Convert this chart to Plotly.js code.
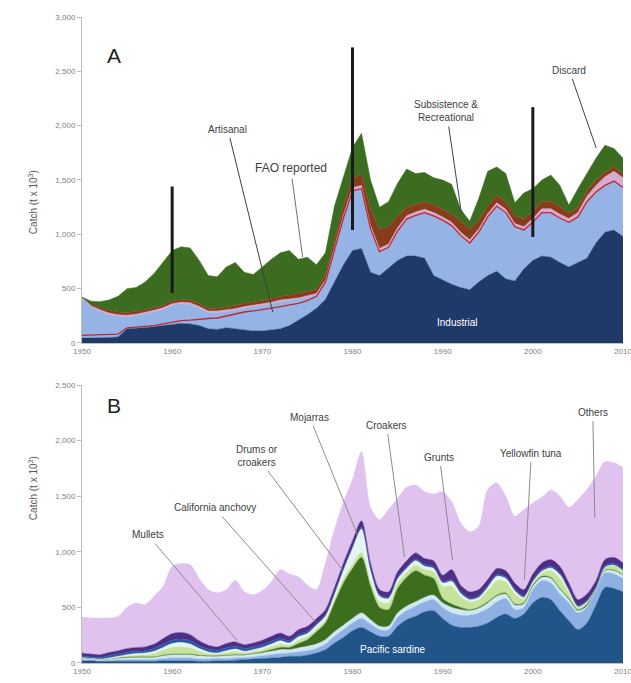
<!DOCTYPE html>
<html>
<head>
<meta charset="utf-8">
<script src="https://cdn.plot.ly/plotly-3.0.1.min.js"></script>
<style>html,body{margin:0;padding:0;background:#fff;}#chart{width:631px;height:683px;}</style>
</head>
<body>
<div id="chart"></div>
<script>
// ---------- shared x categories ----------
const years = [1950,1951,1952,1953,1954,1955,1956,1957,1958,1959,
  1960,1961,1962,1963,1964,1965,1966,1967,1968,1969,
  1970,1971,1972,1973,1974,1975,1976,1977,1978,1979,
  1980,1981,1982,1983,1984,1985,1986,1987,1988,1989,
  1990,1991,1992,1993,1994,1995,1996,1997,1998,1999,
  2000,2001,2002,2003,2004,2005,2006,2007,2008,2009,2010];
const xTicks = [1950,1960,1970,1980,1990,2000,2010];

// ---------- Panel A: catch by sector (t x 10^3) ----------
const industrial = [45,45,50,50,55,130,135,140,150,160,
  170,180,175,160,130,125,140,130,120,110,
  110,120,130,160,210,260,320,400,560,720,
  850,870,650,620,690,760,800,800,780,620,
  580,540,510,490,560,620,660,590,570,680,
  760,800,790,740,700,740,780,920,1020,1040,980];
const artisanal = [375,285,240,210,190,110,115,125,135,150,
  175,180,180,160,150,155,150,170,200,220,
  235,240,250,230,190,160,120,160,290,430,
  550,550,400,220,190,270,340,375,420,550,
  550,540,480,430,460,540,600,610,500,360,
  350,400,410,410,410,420,520,470,430,450,450];
const unreportedArtisanal = [0,10,15,15,15,15,15,15,15,15,
  15,15,15,15,15,15,15,15,15,15,
  15,15,15,15,15,15,15,20,25,30,
  30,30,30,30,30,30,30,30,30,30,
  30,30,30,30,30,30,30,30,30,30,
  35,35,35,35,35,40,50,60,80,90,90];
const subsistenceRecreational = [0,15,20,25,25,25,25,25,25,25,
  25,25,25,25,25,25,25,30,30,30,
  30,35,35,35,40,40,40,50,70,80,
  90,100,150,180,160,110,80,70,70,70,
  70,80,100,100,80,70,70,70,70,70,
  70,70,70,70,50,50,50,50,40,40,40];
const discard = [3,30,55,96,145,220,220,255,315,390,
  465,485,480,400,300,290,370,395,285,255,
  310,360,400,410,315,315,225,200,315,280,
  280,380,270,200,230,300,350,285,270,250,
  270,270,110,70,200,320,260,260,120,240,
  205,195,240,195,75,170,160,200,250,170,140];
const faoReported = [70,72,75,78,82,140,145,150,160,175,
  190,205,210,220,225,230,250,265,285,295,
  305,320,335,350,365,390,430,560,850,1150,
  1400,1420,1050,840,880,1030,1140,1175,1200,1170,
  1130,1080,990,920,1020,1160,1260,1200,1070,1040,
  1110,1200,1200,1150,1110,1160,1300,1390,1450,1490,1430];
const rangeYears = [1960,1980,2000];
const rangeLow = [460,1040,975];
const rangeHigh = [1440,2720,2170];
const yTicksA = [0,500,1000,1500,2000,2500,3000];

// ---------- Panel B: catch by taxa (t x 10^3) ----------
const pacificSardine = [20,20,15,15,15,15,15,15,15,20,
  20,20,20,15,15,20,20,25,30,35,
  40,45,50,60,60,70,90,120,180,230,
  290,320,280,240,240,330,390,420,460,470,
  400,340,320,320,330,360,410,440,400,440,
  540,590,570,470,380,300,360,520,680,670,640];
const taxonLightBlue = [10,8,8,10,12,15,15,15,15,20,
  25,25,25,20,20,20,20,20,20,20,
  25,30,35,30,40,40,40,50,60,70,
  70,80,70,60,60,80,80,90,90,100,
  100,110,110,110,120,130,140,140,80,60,
  120,150,150,150,160,150,140,130,130,130,120];
const taxonPaleCyan = [10,7,7,10,15,18,20,20,20,25,
  30,30,30,30,25,20,25,25,20,25,
  25,30,35,30,35,40,40,40,40,40,
  40,50,40,30,30,40,40,40,40,40,
  40,50,50,40,40,50,50,40,40,30,
  30,30,40,40,30,20,10,10,20,30,30];
const mojarras = [3,2,2,3,4,5,5,5,5,5,
  5,5,5,5,5,5,5,5,5,5,
  10,15,20,20,40,60,110,150,260,380,
  450,500,300,170,150,220,260,280,200,150,
  40,30,20,10,10,10,10,10,10,10,
  10,10,10,10,10,10,15,5,5,5,5];
const taxonLightGreen = [2,1,1,3,6,10,15,20,30,45,
  60,65,55,35,20,15,25,30,15,20,
  20,25,30,20,30,25,25,25,30,35,
  40,45,40,50,60,50,45,50,50,60,
  110,160,95,70,70,100,130,100,90,35,
  20,30,60,90,50,15,20,5,20,40,30];
const taxonWhite = [5,2,2,4,8,12,15,15,20,25,
  35,40,35,25,15,10,15,20,15,15,
  20,25,30,20,30,30,35,35,45,80,
  140,210,105,50,40,35,35,40,30,30,
  30,45,30,20,20,30,40,30,30,15,
  10,15,25,35,20,10,5,0,5,5,5];
const taxonRoyalBlue = [15,15,15,20,20,20,20,20,25,30,
  30,30,30,25,25,25,25,25,25,25,
  25,25,25,20,20,20,15,15,15,15,
  15,15,15,15,15,15,15,15,15,15,
  15,15,15,15,15,15,15,15,15,15,
  15,15,15,15,15,15,15,15,15,15,15];
const taxonPurple = [25,25,25,30,30,35,35,35,40,50,
  60,60,55,45,35,30,40,40,35,35,
  40,45,45,40,45,45,45,45,50,50,
  55,60,50,45,45,50,55,55,55,55,
  55,90,60,55,55,55,55,55,55,55,
  55,60,60,60,55,50,55,55,55,55,55];
const others = [323,325,330,310,310,370,400,380,430,470,
  605,620,630,560,500,485,485,555,475,435,
  445,490,570,560,475,370,260,420,520,550,
  550,620,500,630,740,660,660,610,600,600,
  750,610,560,540,570,810,770,670,600,720,
  640,590,625,630,680,900,940,940,880,850,860];
const yTicksB = [0,500,1000,1500,2000,2500];

// ---------- traces ----------
function area(y, color, group, xa, ya, shape) {
  return {x: years, y: y, type: 'scatter', mode: 'lines', stackgroup: group,
    xaxis: xa, yaxis: ya, fillcolor: color,
    line: {color: color, width: 0.5, shape: shape, smoothing: 0.8},
    hoverinfo: 'skip', showlegend: false};
}
const traces = [
  area(industrial, '#1F3A68', 'a', 'x', 'y', 'linear'),
  area(artisanal, '#96B3E6', 'a', 'x', 'y', 'linear'),
  area(unreportedArtisanal, '#D8AAD2', 'a', 'x', 'y', 'linear'),
  area(subsistenceRecreational, '#873D1A', 'a', 'x', 'y', 'linear'),
  area(discard, '#3C6C20', 'a', 'x', 'y', 'linear'),
  {x: years, y: faoReported, type: 'scatter', mode: 'lines', xaxis: 'x', yaxis: 'y',
   line: {color: '#C0282D', width: 1.3}, hoverinfo: 'skip', showlegend: false},
  area(pacificSardine, '#215489', 'b', 'x2', 'y2', 'spline'),
  area(taxonLightBlue, '#8EB0E3', 'b', 'x2', 'y2', 'spline'),
  area(taxonPaleCyan, '#CFE8F2', 'b', 'x2', 'y2', 'spline'),
  area(mojarras, '#3C6E1E', 'b', 'x2', 'y2', 'spline'),
  area(taxonLightGreen, '#C6E39C', 'b', 'x2', 'y2', 'spline'),
  area(taxonWhite, '#E4F4F0', 'b', 'x2', 'y2', 'spline'),
  area(taxonRoyalBlue, '#2D55A8', 'b', 'x2', 'y2', 'spline'),
  area(taxonPurple, '#4E2D84', 'b', 'x2', 'y2', 'spline'),
  area(others, '#E0C2EF', 'b', 'x2', 'y2', 'spline')
];
rangeYears.forEach(function (yr, i) {
  traces.push({x: [yr, yr], y: [rangeLow[i], rangeHigh[i]], type: 'scatter', mode: 'lines',
    xaxis: 'x', yaxis: 'y', line: {color: '#1a1a1a', width: 3}, hoverinfo: 'skip', showlegend: false});
});

// ---------- layout ----------
const font = 'Liberation Sans, Arial, sans-serif';
const txt = '#404040';
function xa(anchor) {
  return {range: [1950, 2010], tickvals: xTicks, showgrid: false,
    zeroline: false, showline: true, linecolor: '#BFBFBF', linewidth: 1, ticks: '',
    ticklabeloverflow: 'allow',
    tickfont: {family: font, size: 8, color: '#808080'}, anchor: anchor, fixedrange: true};
}
function ya(range, vals, domain, anchor) {
  return {range: range, tickvals: vals, tickformat: ',d', domain: domain, anchor: anchor,
    showgrid: false, zeroline: false, showline: true, linecolor: '#BFBFBF', linewidth: 1,
    ticks: 'outside', ticklen: 4, tickcolor: '#BFBFBF',
    tickfont: {family: font, size: 8, color: '#808080'}, fixedrange: true};
}
function note(text, xref, yref, x, y, ax, ay, lineColor, size) {
  return {text: text, xref: xref, yref: yref, x: x, y: y, ax: ax, ay: ay, showarrow: true,
    arrowhead: 0, arrowwidth: 1, arrowcolor: lineColor, startstandoff: 2,
    font: {family: font, size: size || 10, color: txt}, align: 'center'};
}
const annotations = [
  {text: 'A', xref: 'paper', yref: 'paper', x: 0.0425, y: 0.961, showarrow: false,
   font: {family: font, size: 21, color: '#222'}},
  {text: 'B', xref: 'paper', yref: 'paper', x: 0.0425, y: 0.399, showarrow: false,
   font: {family: font, size: 21, color: '#222'}},
  {text: 'Catch (t x 10<sup>3</sup>)', xref: 'paper', yref: 'paper', x: -0.1054, y: 0.766,
   textangle: -90, showarrow: false, font: {family: font, size: 10, color: '#595959'}},
  {text: 'Catch (t x 10<sup>3</sup>)', xref: 'paper', yref: 'paper', x: -0.1054, y: 0.218,
   textangle: -90, showarrow: false, font: {family: font, size: 10, color: '#595959'}},
  note('Artisanal', 'x', 'y', 1971.15, 285, -45, -183, '#404040', 10),
  note('FAO reported', 'x', 'y', 1974.47, 791, -12, -89, '#707070', 12),
  note('Subsistence &amp;<br>Recreational', 'x', 'y', 1992.08, 1196, -15, -102, '#404040', 10),
  note('Discard', 'x', 'y', 2007.03, 1794, -27, -78, '#404040', 10),
  {text: 'Industrial', xref: 'x', yref: 'y', x: 1991.64, y: 193, showarrow: false,
   font: {family: font, size: 10, color: '#ffffff'}},
  note('Mullets', 'x2', 'y2', 1967.17, 207, -89, -105, '#8c8c8c', 10),
  note('California anchovy', 'x2', 'y2', 1975.9, 369, -101, -114, '#8c8c8c', 10),
  note('Drums or<br>croakers', 'x2', 'y2', 1978.9, 836, -86, -114, '#8c8c8c', 10),
  note('Mojarras', 'x2', 'y2', 1980.56, 1151, -48, -118, '#8c8c8c', 10),
  note('Croakers', 'x2', 'y2', 1985.77, 953, -18, -132, '#8c8c8c', 10),
  note('Grunts', 'x2', 'y2', 1991.09, 926, -13, -103, '#8c8c8c', 10),
  note('Yellowfin tuna', 'x2', 'y2', 1999.06, 746, 7, -127, '#8c8c8c', 10),
  note('Others', 'x2', 'y2', 2006.87, 1304, -2, -106, '#8c8c8c', 10),
  {text: 'Pacific sardine', xref: 'x2', yref: 'y2', x: 1984.44, y: 117, showarrow: false,
   font: {family: font, size: 10, color: '#ffffff'}}
];
const layout = {
  width: 631, height: 683,
  margin: {l: 82, r: 8, t: 17, b: 20},
  paper_bgcolor: '#ffffff', plot_bgcolor: '#ffffff',
  showlegend: false,
  xaxis: xa('y'),
  yaxis: ya([0, 3000], yTicksA, [0.4954, 1], 'x'),
  xaxis2: xa('y2'),
  yaxis2: ya([0, 2500], yTicksB, [0, 0.4303], 'x2'),
  annotations: annotations,
  font: {family: font}
};
Plotly.newPlot('chart', traces, layout, {displayModeBar: false, staticPlot: true});
</script>
</body>
</html>
